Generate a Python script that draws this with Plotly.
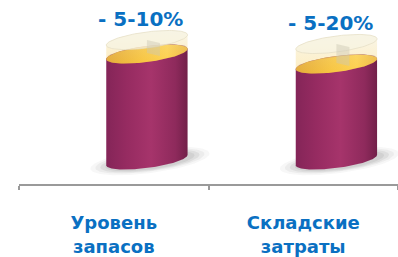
import numpy as np
import plotly.graph_objects as go

# ---- data ----
categories = ["Уровень<br>запасов", "Складские<br>затраты"]
level_after = [106, 96]      # height of the remaining (maroon) cylinder
level_before = [120, 116]    # height of the original (translucent) cylinder
change_labels = ["- 5-10%", "- 5-20%"]

# ---- layout constants ----
W, H = 398, 257
ML, MR, MT, MB = 19, 0, 0, 73
X_RANGE = [-0.5, 1.5]
Y_RANGE = [-24, 160]
PX_X = (W - ML - MR) / (X_RANGE[1] - X_RANGE[0])
PX_Y = (H - MT - MB) / (Y_RANGE[1] - Y_RANGE[0])

OFFSET = 0.175          # perspective shift of the cylinders (category units)
RX, RY = 41.0, 8.0      # ellipse radii (px)
TILT = np.deg2rad(7.5)  # tilt of the ellipses
BLUE = "#0A70C2"
FONT = "DejaVu Sans"

t_r = np.arctan2(-RY * np.sin(TILT), RX * np.cos(TILT))
t_l = t_r + np.pi


def ell(cx, cy, t, rx=RX, ry=RY):
    dx = rx * np.cos(t)
    dy = ry * np.sin(t)
    X = dx * np.cos(TILT) - dy * np.sin(TILT)
    Y = dx * np.sin(TILT) + dy * np.cos(TILT)
    return cx + X / PX_X, cy + Y / PX_Y


def poly(xs, ys, **kw):
    return go.Scatter(x=xs, y=ys, mode="lines", fill="toself", line=dict(width=0),
                      hoverinfo="skip", showlegend=False, **kw)


fig = go.Figure()
full = np.linspace(0, 2 * np.pi, 120)
lower = np.linspace(t_l, t_r + 2 * np.pi, 80)
upper = np.linspace(t_r, t_l, 80)

for i, (a, b) in enumerate(zip(level_after, level_before)):
    cx = i + OFFSET
    # shadow (layered soft ellipses)
    for sx, sy, op in [(60, 12, 0.04), (55, 10.5, 0.06), (50, 9.5, 0.08), (45, 8.5, 0.08)]:
        xs, ys = ell(cx + 3 / PX_X, -1.0, full, sx, sy)
        fig.add_trace(poly(xs, ys, fillcolor=f"rgba(60,60,60,{op})"))
    # maroon body
    bx, by = ell(cx, 0, lower)
    tx, ty = ell(cx, a, upper)
    fig.add_trace(poly(np.r_[bx, tx], np.r_[by, ty],
                       fillgradient=dict(type="horizontal",
                                         colorscale=[[0, "#842558"], [0.25, "#962B61"],
                                                     [0.55, "#A6346B"], [0.85, "#8E2A5C"],
                                                     [1, "#722049"]])))
    # yellow top of maroon cylinder
    ex, ey = ell(cx, a, full)
    fig.add_trace(poly(ex, ey,
                       fillgradient=dict(type="horizontal",
                                         colorscale=[[0, "#D99A2E"], [0.45, "#F7C23A"],
                                                     [0.75, "#FFD24A"], [1, "#E7AE35"]])))
    # back rim tint
    rx_, ry_ = ell(cx, a, np.linspace(t_r, t_l, 60))
    rx2, ry2 = ell(cx, a, np.linspace(t_l, t_r, 60), RX * 0.96, RY * 0.6)
    fig.add_trace(poly(np.r_[rx_, rx2], np.r_[ry_, ry2 + 2.5], fillcolor="rgba(160,95,120,0.5)"))
    # translucent body
    lx, ly = ell(cx, a, lower)
    ux, uy = ell(cx, b, upper)
    fig.add_trace(poly(np.r_[lx, ux], np.r_[ly, uy],
                       fillgradient=dict(type="vertical",
                                         colorscale=[[0, "rgba(250,205,80,0.35)"],
                                                     [1, "rgba(240,232,200,0.40)"]])))
    # translucent top
    qx, qy = ell(cx, b, full)
    fig.add_trace(go.Scatter(x=qx, y=qy, mode="lines", fill="toself",
                             fillcolor="rgba(247,243,226,0.7)",
                             line=dict(width=0.8, color="rgba(228,222,196,0.9)"),
                             hoverinfo="skip", showlegend=False))
    # cut face stripe
    w = 13 / PX_X
    fig.add_trace(poly([cx, cx + w, cx + w, cx],
                       [b, b - 3, a - 2, a + 1],
                       fillcolor="rgba(205,200,180,0.45)"))
    # change label
    fig.add_annotation(x=cx - 6 / PX_X, y=b, yshift=21, text=f"<b>{change_labels[i]}</b>",
                       showarrow=False, font=dict(family=FONT, size=20, color=BLUE))

fig.update_layout(
    width=W, height=H, margin=dict(l=ML, r=MR, t=MT, b=MB, autoexpand=False),
    plot_bgcolor="white", paper_bgcolor="white", showlegend=False,
    xaxis=dict(range=X_RANGE, showgrid=False, zeroline=False, showline=True,
               linecolor="#9A9A9A", linewidth=1.5, tickvals=[0, 1],
               ticktext=[f"<b>{c}</b>" for c in categories], ticks="",
               ticklabelstandoff=22, automargin=False,
               tickfont=dict(family=FONT, size=18, color=BLUE),
               minor=dict(tickvals=[-0.5, 0.5, 1.5], ticks="outside", ticklen=4,
                          tickcolor="#9A9A9A", tickwidth=1.5, showgrid=False)),
    yaxis=dict(range=Y_RANGE, visible=False, showgrid=False, zeroline=False, automargin=False),
)

fig.write_html("out.html", config={"displayModeBar": False},
               post_script="document.body.style.margin='0';document.body.style.overflow='hidden';")
